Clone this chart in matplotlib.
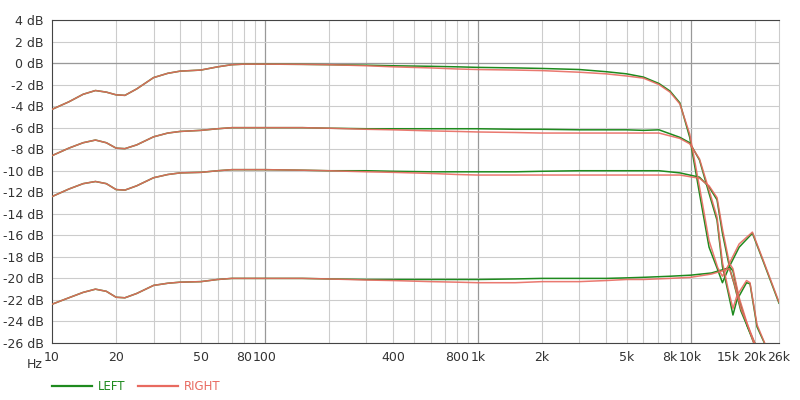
import matplotlib
matplotlib.use('Agg')
import matplotlib.pyplot as plt
from matplotlib.ticker import FixedLocator, NullFormatter

# frequencies (Hz): common low part, then a split part where LEFT/RIGHT differ
f_lo = [10, 12, 14, 16, 18, 20, 22, 25, 30, 35, 40, 50, 60, 70, 80, 100, 150, 200]
f_mid = [300, 400, 600, 800, 1000, 1500, 2000, 3000, 4000, 5000, 6000]

# curve 1 (top, ~0 dB)
c1_lo = [-4.3, -3.6, -2.9, -2.55, -2.7, -2.95, -3.0, -2.4, -1.35, -0.95, -0.75, -0.65, -0.35, -0.15, -0.1,
         -0.1, -0.12, -0.15]
c1_L_mid = [-0.2, -0.25, -0.3, -0.35, -0.4, -0.45, -0.5, -0.6, -0.8, -1.0, -1.3]
c1_R_mid = [-0.25, -0.35, -0.45, -0.55, -0.6, -0.65, -0.7, -0.85, -1.0, -1.2, -1.4]
c1_f_hi = [7100, 8000, 8900, 9900, 11000, 12200, 13400, 14100, 15200, 16900, 19500, 22000, 26000]
c1_L_hi = [-1.9, -2.6, -3.7, -6.9, -12.1, -17.1, -19.2, -20.4, -18.9, -17.1, -15.8, -18.5, -22.3]
c1_R_hi = [-2.0, -2.7, -3.8, -6.6, -11.5, -16.5, -19.0, -19.8, -18.6, -16.8, -15.7, -18.4, -22.2]

# curve 2 (~-6 dB)
c2_lo = [-8.6, -7.9, -7.4, -7.15, -7.4, -7.9, -7.95, -7.6, -6.85, -6.5, -6.35, -6.25, -6.1, -6.0, -6.0,
         -6.0, -6.0, -6.05]
c2_L_mid = [-6.1, -6.1, -6.1, -6.1, -6.1, -6.15, -6.15, -6.2, -6.2, -6.2, -6.25]
c2_R_mid = [-6.15, -6.2, -6.3, -6.35, -6.4, -6.45, -6.5, -6.5, -6.5, -6.5, -6.5]
c2_f_hi = [7100, 8900, 9900, 11000, 12200, 13300, 14100, 15000, 15800, 16500, 18300, 19000, 20500, 22800]
c2_L_hi = [-6.2, -6.9, -7.4, -9.0, -12.1, -14.6, -18.9, -21.3, -23.4, -22.0, -20.4, -20.5, -24.5, -26.5]
c2_R_hi = [-6.5, -7.0, -7.5, -8.9, -11.8, -14.3, -18.5, -21.0, -22.8, -21.6, -20.2, -20.4, -24.3, -26.5]

# curve 3 (~-10 dB)
c3_lo = [-12.4, -11.7, -11.2, -11.0, -11.2, -11.75, -11.8, -11.4, -10.65, -10.35, -10.2, -10.15, -10.0,
         -9.9, -9.9, -9.9, -9.95, -10.0]
c3_L_mid = [-10.0, -10.05, -10.1, -10.1, -10.1, -10.1, -10.05, -10.0, -10.0, -10.0, -10.0]
c3_R_mid = [-10.1, -10.15, -10.25, -10.35, -10.4, -10.4, -10.4, -10.4, -10.4, -10.4, -10.4]
c3_f_hi = [7100, 8900, 11000, 12200, 13300, 14100, 15200, 15800, 16900, 18500, 19800, 21000]
c3_L_hi = [-10.0, -10.2, -10.6, -11.5, -12.7, -15.8, -18.9, -19.3, -22.0, -24.5, -26.0, -27.0]
c3_R_hi = [-10.4, -10.4, -10.7, -11.4, -12.5, -15.4, -18.6, -19.1, -21.8, -24.3, -26.0, -27.0]

# curve 4 (bottom, ~-20 dB)
c4_lo = [-22.4, -21.8, -21.3, -21.0, -21.2, -21.75, -21.8, -21.4, -20.65, -20.45, -20.35, -20.3, -20.1,
         -20.0, -20.0, -20.0, -20.0, -20.05]
c4_L_mid = [-20.1, -20.1, -20.1, -20.1, -20.1, -20.05, -20.0, -20.0, -20.0, -19.95, -19.9]
c4_R_mid = [-20.15, -20.2, -20.3, -20.35, -20.4, -20.4, -20.3, -20.3, -20.2, -20.1, -20.1]
c4_f_hi = [8000, 10000, 12500, 14100, 15200, 16000, 17200, 18500, 20000, 22000]
c4_L_hi = [-19.8, -19.7, -19.5, -19.2, -19.0, -20.5, -23.0, -24.5, -26.0, -27.0]
c4_R_hi = [-20.0, -19.9, -19.6, -19.3, -19.1, -20.4, -22.8, -24.3, -26.0, -27.0]

x_ticks = [10, 20, 50, 80, 100, 400, 800, 1000, 2000, 5000, 8000, 10000, 15000, 20000, 26000]
x_labels = ['10', '20', '50', '80', '100', '400', '800', '1k', '2k', '5k', '8k', '10k', '15k', '20k', '26k']

GREEN = '#1e8a1e'
RED = '#e86a60'

fig = plt.figure(figsize=(8, 4), dpi=100)
ax = fig.add_axes([52/800, 57/400, 727/800, 323/400])

curves = [
    (c1_lo, c1_L_mid, c1_R_mid, c1_f_hi, c1_L_hi, c1_R_hi),
    (c2_lo, c2_L_mid, c2_R_mid, c2_f_hi, c2_L_hi, c2_R_hi),
    (c3_lo, c3_L_mid, c3_R_mid, c3_f_hi, c3_L_hi, c3_R_hi),
    (c4_lo, c4_L_mid, c4_R_mid, c4_f_hi, c4_L_hi, c4_R_hi),
]
for lo, lmid, rmid, fhi, lhi, rhi in curves:
    fx = f_lo + f_mid + fhi
    ax.plot(fx, lo + lmid + lhi, color=GREEN, lw=1.1, zorder=3)
    ax.plot(fx, lo + rmid + rhi, color=RED, lw=1.1, alpha=0.9, zorder=4)

ax.set_xscale('log')
ax.set_xlim(10, 26000)
ax.set_ylim(-26, 4)

# grid lines
minor = [m * d for d in [10, 100, 1000, 10000] for m in range(2, 10) if m * d < 26000]
ax.xaxis.set_minor_locator(FixedLocator(minor))
ax.xaxis.set_minor_formatter(NullFormatter())
ax.xaxis.set_major_locator(FixedLocator(x_ticks))
ax.set_xticklabels(x_labels)
for f in minor:
    ax.axvline(f, color='#cccccc', lw=0.8, zorder=1)
for f in [100, 1000, 10000]:
    ax.axvline(f, color='#999999', lw=0.9, zorder=1)
yt = list(range(-26, 5, 2))
ax.set_yticks(yt)
ax.set_yticklabels([f'{v} dB' for v in yt])
for v in yt:
    ax.axhline(v, color='#cccccc', lw=0.8, zorder=1)
ax.axhline(0, color='#999999', lw=0.9, zorder=1)

ax.tick_params(which='both', length=0, labelsize=9, colors='#333333', pad=6)
for s in ['top', 'bottom', 'left']:
    ax.spines[s].set_color('#444444')
ax.spines['right'].set_color('#cccccc')
ax.spines['right'].set_linewidth(0.8)

fig.text(35/800, 1 - 364/400, 'Hz', fontsize=9, color='#333333', va='center', ha='center')

# legend
fig.add_artist(plt.Line2D([52/800, 92/800], [1 - 386/400] * 2, color=GREEN, lw=1.6))
fig.text(98/800, 1 - 386/400, 'LEFT', color=GREEN, fontsize=8.5, va='center')
fig.add_artist(plt.Line2D([138/800, 178/800], [1 - 386/400] * 2, color=RED, lw=1.6))
fig.text(184/800, 1 - 386/400, 'RIGHT', color=RED, fontsize=8.5, va='center')

plt.savefig('out.png', dpi=100)
